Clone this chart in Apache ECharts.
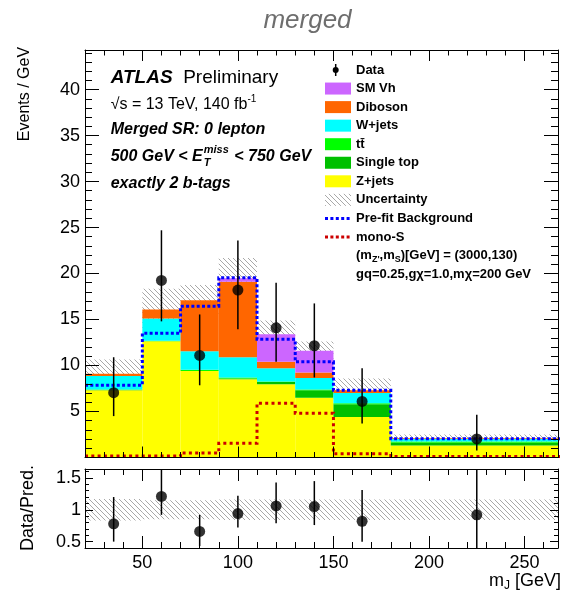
<!DOCTYPE html>
<html>
<head>
<meta charset="utf-8">
<script src="https://cdn.jsdelivr.net/npm/echarts@6/dist/echarts.min.js"></script>
<style>
  html, body { margin: 0; padding: 0; background: #fff; }
  #chart { width: 562px; height: 596px; }
</style>
</head>
<body>
<div id="chart"></div>
<script>
// ---- m_J binning [GeV] ----
const binLo = [20, 50, 70, 90, 110, 130, 150, 180];
const binHi = [50, 70, 90, 110, 130, 150, 180, 270];
const dataX = [35, 60, 80, 100, 120, 140, 165, 225];

// ---- post-fit backgrounds, Events / GeV (stacked bottom to top) ----
const zJets     = [7.30, 12.65, 9.40, 8.50, 7.95, 6.50, 4.40, 1.30];
const singleTop = [0.05, 0.00, 0.00, 0.10, 0.25, 0.80, 1.40, 0.30];
const ttbar     = [0.05, 0.05, 0.15, 0.10, 0.05, 0.10, 0.10, 0.15];
const wJets     = [1.45, 2.40, 2.00, 2.20, 1.45, 1.25, 1.10, 0.25];
const diboson   = [0.25, 1.00, 5.55, 8.20, 0.70, 0.60, 0.30, 0.10];
const smVh      = [0.00, 0.00, 0.00, 0.40, 3.00, 2.35, 0.00, 0.00];
// total background uncertainty (half width)
const bkgUnc    = [1.55, 2.25, 1.65, 2.20, 1.50, 1.00, 1.30, 0.40];

// ---- overlays ----
const preFitBkg = [7.85, 13.50, 16.45, 19.55, 12.85, 10.40, 7.30, 2.05];
const monoS     = [0.15, 0.15, 0.50, 1.55, 5.90, 4.80, 0.40, 0.10];

// ---- data with error-bar bounds ----
const dataY  = [7.05, 19.25, 11.10, 18.20, 14.10, 12.15, 6.10, 2.02];
const dataLo = [4.50, 14.80, 7.85, 13.95, 10.40, 8.70, 3.70, 0.75];
const dataHi = [10.90, 24.70, 15.55, 23.60, 19.00, 16.75, 9.70, 4.65];

// ---- ratio panel ----
const ratioY  = [0.78, 1.21, 0.66, 0.94, 1.06, 1.05, 0.82, 0.92];
const ratioLo = [0.50, 0.92, 0.43, 0.72, 0.79, 0.76, 0.50, 0.30];
const ratioHi = [1.20, 1.70, 0.92, 1.22, 1.43, 1.45, 1.31, 1.80];
const ratioUnc = [0.17, 0.15, 0.15, 0.16, 0.16, 0.16, 0.16, 0.16];

// ---- axis ticks and labels ----
const xMajor = [50, 100, 150, 200, 250];
const xMinor = [30, 40, 60, 70, 80, 90, 110, 120, 130, 140, 160, 170, 180, 190, 210, 220, 230, 240, 260];
const yMajor = [5, 10, 15, 20, 25, 30, 35, 40];
const yMinor = [1, 2, 3, 4, 6, 7, 8, 9, 11, 12, 13, 14, 16, 17, 18, 19, 21, 22, 23, 24,
                26, 27, 28, 29, 31, 32, 33, 34, 36, 37, 38, 39, 41, 42, 43, 44];
const rMajor = [0.5, 1, 1.5];
const rMinor = [0.6, 0.7, 0.8, 0.9, 1.1, 1.2, 1.3, 1.4, 1.6];

const X_MIN = 20, X_MAX = 267.5;
const Y_MIN = 0, Y_MAX = 44.3;
const R_MIN = 0.4, R_MAX = 1.64;

const FONT = '"Liberation Sans", Arial, Helvetica, sans-serif';
const C = {
  vh: '#cc66ff', vv: '#ff6600', w: '#00ffff', tt: '#00ff00', st: '#00c000', z: '#ffff00',
  pre: '#0000ff', sig: '#cc0000', hatch: '#a8a8a8'
};

// diagonal hatch used for the uncertainty bands
function hatchPattern(step, color) {
  const c = document.createElement('canvas');
  c.width = c.height = step;
  const g = c.getContext('2d');
  g.strokeStyle = color;
  g.lineWidth = 1;
  g.beginPath();
  g.moveTo(-1, -1); g.lineTo(step + 1, step + 1);
  g.moveTo(-1, step - 1); g.lineTo(1, step + 1);
  g.moveTo(step - 1, -1); g.lineTo(step + 1, 1);
  g.stroke();
  return { image: c, repeat: 'repeat' };
}
const HATCH = hatchPattern(5, C.hatch);

// ---- axes: frame lines with inward major / minor ticks on all four sides ----
const frameLine = { color: '#000', width: 1 };
function xAxisDef(grid, pos, ticks, len, showLine, labels) {
  return {
    type: 'value', gridIndex: grid, position: pos, min: X_MIN, max: X_MAX, z: 10,
    axisLine: { show: showLine, onZero: false, lineStyle: frameLine },
    axisTick: { show: true, inside: true, length: len, customValues: ticks, lineStyle: frameLine },
    axisLabel: labels ? { show: true, customValues: labels, fontFamily: FONT, fontSize: 18, color: '#000', margin: 6 } : { show: false },
    splitLine: { show: false }, minorTick: { show: false }
  };
}
function yAxisDef(grid, pos, min, max, ticks, len, showLine, labels, margin) {
  return {
    type: 'value', gridIndex: grid, position: pos, offset: 0, min: min, max: max, z: 10,
    axisLine: { show: showLine, onZero: false, lineStyle: frameLine },
    axisTick: { show: true, inside: true, length: len, customValues: ticks, lineStyle: frameLine },
    axisLabel: labels ? { show: true, customValues: labels, fontFamily: FONT, fontSize: 18, color: '#000', margin: margin } : { show: false },
    splitLine: { show: false }, minorTick: { show: false }
  };
}

const xAxes = [
  xAxisDef(0, 'bottom', xMajor, 11, true, null),
  xAxisDef(0, 'bottom', xMinor, 5.5, false, null),
  xAxisDef(0, 'top', xMajor, 11, true, null),
  xAxisDef(0, 'top', xMinor, 5.5, false, null),
  xAxisDef(1, 'bottom', xMajor, 12, true, xMajor),
  xAxisDef(1, 'bottom', xMinor, 6, false, null),
  xAxisDef(1, 'top', xMajor, 12, true, null),
  xAxisDef(1, 'top', xMinor, 6, false, null)
];
const yAxes = [
  yAxisDef(0, 'left', Y_MIN, Y_MAX, yMajor, 14, true, yMajor, 5),
  yAxisDef(0, 'left', Y_MIN, Y_MAX, yMinor, 7, false, null),
  yAxisDef(0, 'right', Y_MIN, Y_MAX, yMajor, 14, true, null),
  yAxisDef(0, 'right', Y_MIN, Y_MAX, yMinor, 7, false, null),
  yAxisDef(1, 'left', R_MIN, R_MAX, rMajor, 8, true, rMajor, 4),
  yAxisDef(1, 'left', R_MIN, R_MAX, rMinor, 4, false, null),
  yAxisDef(1, 'right', R_MIN, R_MAX, rMajor, 8, true, null),
  yAxisDef(1, 'right', R_MIN, R_MAX, rMinor, 4, false, null)
];

// ---- series helpers ----
function clampRect(p0, p1, cs) {
  const x0 = Math.max(cs.x, Math.min(p0[0], p1[0]));
  const x1 = Math.min(cs.x + cs.width, Math.max(p0[0], p1[0]));
  const y0 = Math.max(cs.y, Math.min(p0[1], p1[1]));
  const y1 = Math.min(cs.y + cs.height, Math.max(p0[1], p1[1]));
  return { x: x0, y: y0, width: Math.max(0, x1 - x0), height: Math.max(0, y1 - y0) };
}
function boxSeries(name, items, fill, axisIdx, z) {
  return {
    name: name, type: 'custom', xAxisIndex: axisIdx, yAxisIndex: axisIdx, z: z,
    data: items, encode: { x: [0, 1], y: [2, 3] }, silent: true,
    renderItem: function (params, api) {
      const p0 = api.coord([api.value(0), api.value(3)]);
      const p1 = api.coord([api.value(1), api.value(2)]);
      return { type: 'rect', shape: clampRect(p0, p1, params.coordSys), style: { fill: fill, stroke: null } };
    }
  };
}
function errorSeries(items, axisIdx) {
  return {
    type: 'custom', xAxisIndex: axisIdx, yAxisIndex: axisIdx, z: 6, silent: true,
    data: items, encode: { x: 0, y: [1, 2] },
    renderItem: function (params, api) {
      const cs = params.coordSys;
      const a = api.coord([api.value(0), api.value(1)]);
      const b = api.coord([api.value(0), api.value(2)]);
      const top = Math.max(cs.y, Math.min(a[1], b[1]));
      const bot = Math.min(cs.y + cs.height, Math.max(a[1], b[1]));
      return { type: 'line', shape: { x1: a[0], y1: top, x2: a[0], y2: bot }, style: { stroke: '#000', lineWidth: 1.5 } };
    }
  };
}
function stepPoints(vals) {
  const pts = [];
  vals.forEach(function (v, i) { pts.push([binLo[i], v]); pts.push([binHi[i], v]); });
  return pts;
}

// stacked background boxes
const stackOrder = [
  ['Z+jets', zJets, C.z], ['Single top', singleTop, C.st], ['ttbar', ttbar, C.tt],
  ['W+jets', wJets, C.w], ['Diboson', diboson, C.vv], ['SM Vh', smVh, C.vh]
];
const base = binLo.map(function () { return 0; });
const stackSeries = stackOrder.map(function (s) {
  const items = s[1].map(function (v, i) {
    const item = [binLo[i], binHi[i], base[i], base[i] + v];
    base[i] += v;
    return item;
  });
  return boxSeries(s[0], items, s[2], 0, 3);
});
const total = base.slice();

const series = [
  boxSeries('Uncertainty', total.map(function (t, i) { return [binLo[i], binHi[i], t - bkgUnc[i], t + bkgUnc[i]]; }), HATCH, 0, 2)
].concat(stackSeries).concat([
  {
    name: 'mono-S', type: 'line', xAxisIndex: 0, yAxisIndex: 0, z: 4, data: stepPoints(monoS),
    showSymbol: false, symbol: 'none', silent: true, clip: true,
    lineStyle: { color: C.sig, width: 3, type: [3, 3.3], cap: 'butt', join: 'miter' }
  },
  {
    name: 'Pre-fit Background', type: 'line', xAxisIndex: 0, yAxisIndex: 0, z: 4, data: stepPoints(preFitBkg),
    showSymbol: false, symbol: 'none', silent: true, clip: true,
    lineStyle: { color: C.pre, width: 3, type: [3, 2.3], cap: 'butt', join: 'miter' }
  },
  errorSeries(dataX.map(function (x, i) { return [x, dataLo[i], dataHi[i]]; }), 0),
  {
    name: 'Data', type: 'scatter', xAxisIndex: 0, yAxisIndex: 0, z: 7, silent: true,
    data: dataX.map(function (x, i) { return [x, dataY[i]]; }),
    symbol: 'circle', symbolSize: 11, itemStyle: { color: '#000' }
  },
  // ratio panel
  boxSeries('Ratio uncertainty', ratioUnc.map(function (u, i) { return [binLo[i], binHi[i], 1 - u, 1 + u]; }), HATCH, 4, 2),
  errorSeries(dataX.map(function (x, i) { return [x, ratioLo[i], ratioHi[i]]; }), 4),
  {
    name: 'Data/Pred.', type: 'scatter', xAxisIndex: 4, yAxisIndex: 4, z: 7, silent: true,
    data: dataX.map(function (x, i) { return [x, ratioY[i]]; }),
    symbol: 'circle', symbolSize: 11, itemStyle: { color: '#000' }
  }
]);

// ---- text with sub/superscripts laid out piece by piece ----
const measureCtx = document.createElement('canvas').getContext('2d');
function widthOf(text, font) { measureCtx.font = font; return measureCtx.measureText(text).width; }
function textRun(x, y, parts, anchor) {
  const widths = parts.map(function (p) { return widthOf(p[0], p[1]); });
  const totalW = widths.reduce(function (a, b) { return a + b; }, 0);
  let cx = anchor === 'right' ? x - totalW : x;
  const els = parts.map(function (p, i) {
    const el = { type: 'text', x: cx, y: y + (p[2] || 0), silent: true,
      style: { text: p[0], font: p[1], fill: p[3] || '#000', align: 'left', verticalAlign: 'middle' } };
    cx += widths[i];
    return el;
  });
  return { els: els, end: cx };
}

const fBI16 = 'italic bold 16px ' + FONT;
const fBI11 = 'italic bold 11px ' + FONT;
const fB13 = 'bold 13px ' + FONT;
const fB9 = 'bold 9px ' + FONT;

const graphics = [];
function add(run) { run.els.forEach(function (e) { graphics.push(e); }); return run.end; }

// title
graphics.push({ type: 'text', x: 307.5, y: 21, silent: true,
  style: { text: 'merged', font: 'italic 26px ' + FONT, fill: '#6e6e6e', align: 'center', verticalAlign: 'middle' } });

// axis titles
graphics.push({ type: 'text', x: 25, y: 94, rotation: Math.PI / 2, silent: true,
  style: { text: 'Events / GeV', font: '16px ' + FONT, fill: '#000', align: 'center', verticalAlign: 'middle' } });
graphics.push({ type: 'text', x: 28, y: 508, rotation: Math.PI / 2, silent: true,
  style: { text: 'Data/Pred.', font: '18px ' + FONT, fill: '#000', align: 'center', verticalAlign: 'middle' } });
add(textRun(561, 581, [['m', '18px ' + FONT, 0], ['J', '12px ' + FONT, 5], [' [GeV]', '18px ' + FONT, 0]], 'right'));

// ATLAS label block
add(textRun(110.7, 78, [['ATLAS', 'italic bold 19px ' + FONT, 0], ['  Preliminary', '19px ' + FONT, 0]]));
add(textRun(110.7, 105, [['\u221As = 13 TeV, 140 fb', '16px ' + FONT, 0], ['-1', '10px ' + FONT, -6]]));
add(textRun(110.7, 130, [['Merged SR: 0 lepton', fBI16, 0]]));
let xE = add(textRun(110.7, 156.7, [['500 GeV < E', fBI16, 0]]));
add(textRun(xE + 1, 150, [['miss', fBI11, 0]]));
add(textRun(xE + 1, 162.5, [['T', fBI11, 0]]));
add(textRun(xE + 2 + widthOf('miss', fBI11), 156.7, [[' < 750 GeV', fBI16, 0]]));
add(textRun(110.7, 183.3, [['exactly 2 b-tags', fBI16, 0]]));

// legend
const legendLabels = ['Data', 'SM Vh', 'Diboson', 'W+jets', 't\u0074\u0304', 'Single top', 'Z+jets',
                      'Uncertainty', 'Pre-fit Background', 'mono-S'];
const legendFills = [null, C.vh, C.vv, C.w, C.tt, C.st, C.z, HATCH, null, null];
const LX = 325, LW = 26, LTX = 356, LY0 = 70, LDY = 18.55;
legendLabels.forEach(function (lab, i) {
  const y = LY0 + i * LDY;
  if (i === 0) {
    graphics.push({ type: 'line', silent: true, shape: { x1: LX + 10.7, y1: y - 6, x2: LX + 10.7, y2: y + 6 }, style: { stroke: '#000', lineWidth: 1.5 } });
    graphics.push({ type: 'circle', silent: true, shape: { cx: LX + 10.7, cy: y, r: 3 }, style: { fill: '#000' } });
  } else if (legendFills[i]) {
    graphics.push({ type: 'rect', silent: true, shape: { x: LX, y: y - 6, width: LW, height: 12 }, style: { fill: legendFills[i] } });
  } else {
    graphics.push({ type: 'line', silent: true, shape: { x1: LX, y1: y, x2: LX + LW, y2: y },
      style: { stroke: lab === 'mono-S' ? C.sig : C.pre, lineWidth: 3, lineDash: [3, 2.4] } });
  }
  add(textRun(LTX, y, [[lab, fB13, 0]]));
});
const yM = LY0 + 10 * LDY;
add(textRun(LTX, yM, [['(m', fB13, 0], ["Z'", fB9, 4], [',m', fB13, 0], ['S', fB9, 4], [')[GeV] = (3000,130)', fB13, 0]]));
add(textRun(LTX, yM + LDY, [['gq=0.25,g\u03C7=1.0,m\u03C7=200 GeV', fB13, 0]]));

const chart = echarts.init(document.getElementById('chart'), null, { renderer: 'canvas' });
chart.setOption({
  animation: false,
  backgroundColor: '#fff',
  grid: [
    { left: 85, top: 50, width: 473, height: 407.5 },
    { left: 85, top: 469, width: 473, height: 79 }
  ],
  xAxis: xAxes,
  yAxis: yAxes,
  series: series,
  graphic: { elements: graphics }
});
</script>
</body>
</html>
